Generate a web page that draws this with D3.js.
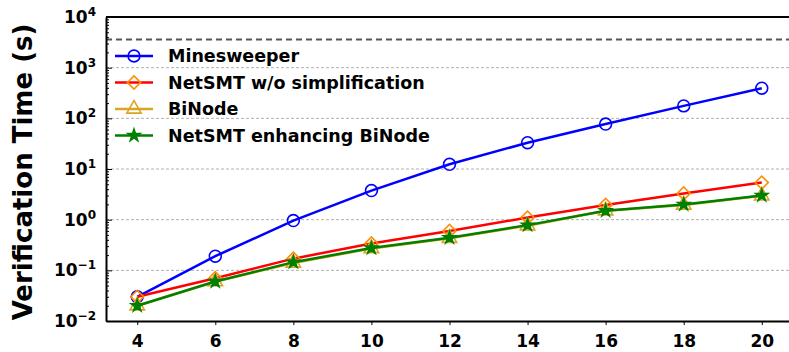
<!DOCTYPE html>
<html>
<head>
<meta charset="utf-8">
<script src="https://cdn.jsdelivr.net/npm/d3@7"></script>
<style>
  body { margin: 0; background: white; }
  text { font-family: "DejaVu Sans", sans-serif; font-weight: bold; }
</style>
</head>
<body>
<div id="chart"></div>
<script>
// Data
const sizes = [4, 6, 8, 10, 12, 14, 16, 18, 20];
const minesweeper = [0.03, 0.19, 0.96, 3.75, 12.4, 33, 77, 176, 393];
const netsmtNoSimp = [0.03, 0.07, 0.17, 0.34, 0.6, 1.1, 1.95, 3.3, 5.4];
const binode = [0.02, 0.06, 0.14, 0.27, 0.43, 0.76, 1.5, 1.95, 2.95];
const netsmtBinode = [0.02, 0.06, 0.145, 0.275, 0.44, 0.78, 1.5, 2.0, 3.0];
const timeout = 3600;
const yMajors = [-2, -1, 0, 1, 2, 3, 4];

const series = [
  { name: "Minesweeper", values: minesweeper, line: "#0000ff", mark: "#0000ff", sym: "circle" },
  { name: "NetSMT w/o simplification", values: netsmtNoSimp, line: "#ff0000", mark: "#ff8c00", sym: "diamond" },
  { name: "BiNode", values: binode, line: "#daa520", mark: "#daa520", sym: "triangle" },
  { name: "NetSMT enhancing BiNode", values: netsmtBinode, line: "#008000", mark: "#008000", sym: "star" }
];

const width = 789, height = 352;
const plot = { left: 106, right: 793, top: 17, bottom: 321 };

const svg = d3.select("#chart").append("svg")
  .attr("width", width)
  .attr("height", height);

const x = d3.scaleLinear().domain([3.2, 20.8]).range([plot.left, plot.right]);
const y = d3.scaleLog().domain([1e-2, 1e4]).range([plot.bottom, plot.top]);

// grille pointillée aux décades
svg.append("g").selectAll("line")
  .data(yMajors.slice(1, -1))
  .enter().append("line")
  .attr("x1", plot.left).attr("x2", plot.right)
  .attr("y1", d => y(Math.pow(10, d))).attr("y2", d => y(Math.pow(10, d)))
  .attr("stroke", "#b0b0b0")
  .attr("stroke-width", 1)
  .attr("stroke-dasharray", "3,2");

// timeout line
svg.append("line")
  .attr("x1", plot.left).attr("x2", plot.right)
  .attr("y1", y(timeout)).attr("y2", y(timeout))
  .attr("stroke", "#555")
  .attr("stroke-width", 2)
  .attr("stroke-dasharray", "6,4");

// symbols
function symbolPath(sym) {
  if (sym === "circle") return d3.symbol(d3.symbolCircle, 110)();
  if (sym === "diamond") return d3.symbol(d3.symbolSquare, 85)();
  if (sym === "triangle") return d3.symbol(d3.symbolTriangle, 90)();
  return d3.symbol(d3.symbolStar, 45)();
}
function drawMarker(g, s, cx, cy) {
  g.append("path")
    .attr("d", symbolPath(s.sym))
    .attr("transform", `translate(${cx},${cy})` + (s.sym === "diamond" ? " rotate(45)" : ""))
    .attr("fill", s.sym === "star" ? s.mark : "none")
    .attr("stroke", s.mark)
    .attr("stroke-width", 1.6);
}

const line = d3.line().x(d => x(d[0])).y(d => y(d[1]));

series.forEach(s => {
  const pts = sizes.map((v, i) => [v, s.values[i]]);
  const g = svg.append("g");
  g.append("path")
    .datum(pts)
    .attr("d", line)
    .attr("fill", "none")
    .attr("stroke", s.line)
    .attr("stroke-width", 2.5);
  pts.forEach(p => drawMarker(g, s, x(p[0]), y(p[1])));
});

// axes
const yAxis = svg.append("g")
  .attr("transform", `translate(${plot.left},0)`)
  .call(d3.axisLeft(y).tickValues(yMajors.map(d => Math.pow(10, d))).tickSizeInner(-6).tickSizeOuter(0).tickFormat(""));
const minors = [];
yMajors.slice(0, -1).forEach(e => { for (let k = 2; k < 10; k++) minors.push(k * Math.pow(10, e)); });
svg.append("g")
  .attr("transform", `translate(${plot.left},0)`)
  .call(d3.axisLeft(y).tickValues(minors).tickSizeInner(-3).tickSizeOuter(0).tickFormat(""))
  .select(".domain").remove();
yAxis.select(".domain").attr("stroke-width", 2);
svg.selectAll(".tick line").attr("stroke", "#000");

// labels en puissance de 10
svg.append("g").selectAll("text")
  .data(yMajors)
  .enter().append("text")
  .attr("x", 96)
  .attr("y", d => y(Math.pow(10, d)) + 6)
  .attr("text-anchor", "end")
  .style("font-size", "17px")
  .each(function(d) {
    const t = d3.select(this);
    t.append("tspan").text("10");
    t.append("tspan").attr("dy", -7).style("font-size", "12px").text(d < 0 ? "\u2212" + (-d) : d);
  });

const xAxis = svg.append("g")
  .attr("transform", `translate(0,${plot.bottom})`)
  .call(d3.axisBottom(x).tickValues(sizes).tickSizeInner(4).tickSizeOuter(0).tickFormat(d3.format("d")));
xAxis.select(".domain").attr("stroke-width", 2);
xAxis.selectAll("text")
  .attr("dy", "1.1em")
  .style("font-size", "17px")
  .style("font-family", "DejaVu Sans, sans-serif")
  .style("font-weight", "bold")
  .attr("fill", "#000");

// cadre haut
svg.append("line")
  .attr("x1", plot.left).attr("x2", plot.right)
  .attr("y1", plot.top).attr("y2", plot.top)
  .attr("stroke", "#000").attr("stroke-width", 2);

// titre axe y
svg.append("text")
  .attr("transform", `translate(32,${(plot.top + plot.bottom) / 2 + 3}) rotate(-90)`)
  .attr("text-anchor", "middle")
  .style("font-size", "26px")
  .text("Verification Time (s)");

// légende
const legend = svg.append("g");
series.forEach((s, i) => {
  const ly = 56 + i * 26.5;
  legend.append("line")
    .attr("x1", 115).attr("x2", 153)
    .attr("y1", ly).attr("y2", ly)
    .attr("stroke", s.line).attr("stroke-width", 2.5);
  drawMarker(legend, s, 134, ly);
  legend.append("text")
    .attr("x", 168).attr("y", ly + 6)
    .style("font-size", "17.5px")
    .text(s.name);
});
</script>
</body>
</html>
